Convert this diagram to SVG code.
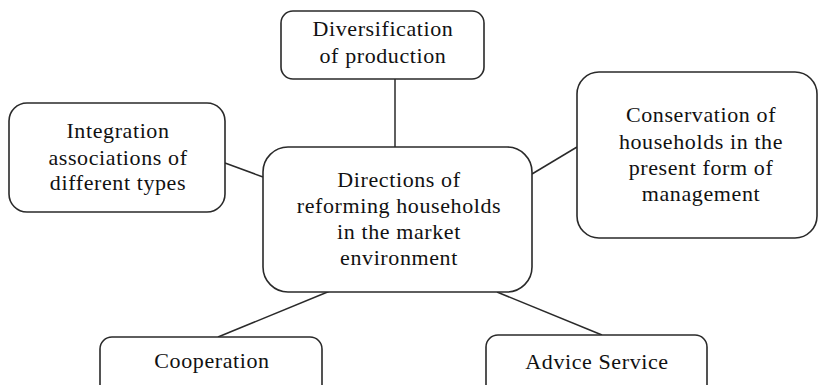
<svg xmlns="http://www.w3.org/2000/svg" width="818" height="385" viewBox="0 0 818 385">
<style>
.box{fill:#fff;stroke:#2a2a2a;stroke-width:1.6}
.lbl{font-family:"Liberation Serif","Times New Roman",serif;font-size:22px;letter-spacing:0.6px;fill:#111;text-anchor:middle}
.con{stroke:#2a2a2a;stroke-width:1.5;fill:none}
</style>
<rect width="818" height="385" fill="#fff"/>
<g id="connectors">
<line class="con" x1="395" y1="79" x2="395" y2="147"/>
<line class="con" x1="225" y1="163" x2="263" y2="177"/>
<line class="con" x1="532" y1="174" x2="577" y2="147"/>
<line class="con" x1="330" y1="291" x2="218" y2="337"/>
<line class="con" x1="497" y1="292" x2="602" y2="335"/>
</g>
<g id="n-diversification">
<rect class="box" x="281" y="11" width="203" height="68" rx="12"/>
<text class="lbl" x="383" y="36">Diversification</text>
<text class="lbl" x="383" y="63">of production</text>
</g>
<g id="n-integration">
<rect class="box" x="9" y="103" width="216" height="109" rx="18"/>
<text class="lbl" x="118" y="138">Integration</text>
<text class="lbl" x="118" y="165">associations of</text>
<text class="lbl" x="118" y="190">different types</text>
</g>
<g id="n-conservation">
<rect class="box" x="577" y="72" width="240" height="166" rx="22"/>
<text class="lbl" x="701" y="122">Conservation of</text>
<text class="lbl" x="701" y="149">households in the</text>
<text class="lbl" x="701" y="175">present form of</text>
<text class="lbl" x="701" y="201">management</text>
</g>
<g id="n-directions">
<rect class="box" x="263" y="147" width="269" height="145" rx="25"/>
<text class="lbl" x="399" y="187">Directions of</text>
<text class="lbl" x="399" y="213">reforming households</text>
<text class="lbl" x="399" y="239">in the market</text>
<text class="lbl" x="399" y="265">environment</text>
</g>
<g id="n-cooperation">
<rect class="box" x="100" y="337" width="222" height="70" rx="12"/>
<text class="lbl" x="212" y="368">Cooperation</text>
</g>
<g id="n-advice">
<rect class="box" x="486" y="335" width="221" height="70" rx="12"/>
<text class="lbl" x="597" y="369">Advice Service</text>
</g>
</svg>
